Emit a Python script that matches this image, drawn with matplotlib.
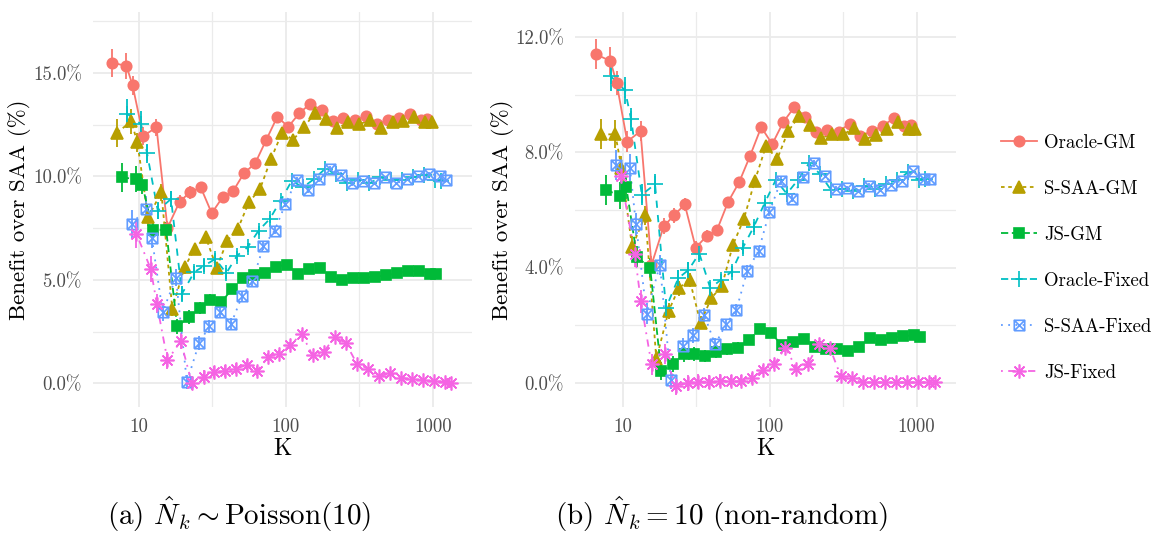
import numpy as np
import matplotlib
matplotlib.use("Agg")
import matplotlib.pyplot as plt
from matplotlib.path import Path
from matplotlib.lines import Line2D

plt.rcParams['font.family'] = ['cmr10', 'DejaVu Serif']
plt.rcParams['mathtext.fontset'] = 'cm'
plt.rcParams['axes.formatter.use_mathtext'] = True

# ---- data ----
K = [8, 10, 11, 13, 16, 19, 23, 27, 32, 38, 45, 53, 63, 75, 89, 106, 126, 150,
     178, 212, 252, 299, 356, 423, 502, 597, 709, 842, 1000, 1100]

methods = ['Oracle-GM', 'S-SAA-GM', 'JS-GM', 'Oracle-Fixed', 'S-SAA-Fixed', 'JS-Fixed']

# panel (a): N_k ~ Poisson(10)
a_oracle_gm = [15.50, 15.34, 14.41, 11.96, 12.37, 7.51, 8.78, 9.23, 9.47, 8.22, 8.99, 9.28, 10.16, 10.63, 11.75,
               12.88, 12.40, 13.06, 13.52, 13.20, 12.69, 12.82, 12.72, 12.93, 12.53, 12.72, 12.84, 13.00, 12.72, 12.77]
a_ssaa_gm = [12.12, 12.66, 11.64, 8.02, 9.23, 3.60, 5.61, 6.50, 7.09, 5.58, 6.90, 7.46, 8.75, 9.39, 10.84,
             12.12, 11.77, 12.40, 13.09, 12.77, 12.33, 12.61, 12.53, 12.72, 12.33, 12.61, 12.69, 12.88, 12.61, 12.61]
a_js_gm = [9.95, 9.87, 9.60, 7.41, 7.41, 2.75, 3.20, 3.63, 4.04, 3.92, 4.57, 5.10, 5.21, 5.32, 5.64,
           5.73, 5.29, 5.53, 5.58, 5.16, 4.97, 5.10, 5.10, 5.16, 5.21, 5.32, 5.42, 5.42, 5.29, 5.29]
a_oracle_fixed = [13.04, 12.53, 11.11, 8.35, 8.91, 4.33, 5.37, 5.69, 6.01, 5.32, 6.17, 6.57, 7.38, 7.94, 8.83,
                  9.79, 9.47, 9.87, 10.36, 10.12, 9.66, 9.83, 9.66, 9.95, 9.83, 9.83, 9.95, 10.08, 9.83, 9.79]
a_ssaa_fixed = [7.70, 8.43, 7.00, 3.44, 5.10, 0.06, 1.94, 2.75, 3.44, 2.88, 4.20, 4.93, 6.62, 7.38, 8.67,
                9.84, 9.34, 9.87, 10.36, 10.08, 9.66, 9.79, 9.66, 9.95, 9.66, 9.87, 10.03, 10.14, 10.00, 9.83]
a_js_fixed = [7.22, 5.53, 3.84, 1.11, 2.04, 0.02, 0.31, 0.55, 0.58, 0.71, 0.87, 0.59, 1.27, 1.43, 1.83,
              2.40, 1.35, 1.51, 2.23, 1.94, 0.95, 0.71, 0.34, 0.47, 0.27, 0.18, 0.14, 0.11, 0.06, 0.02]
a_err = [0.68, 0.62, 0.45, 0.42, 0.40, 0.35, 0.32, 0.30, 0.28, 0.26, 0.24, 0.22, 0.20, 0.18, 0.16,
         0.15, 0.14, 0.13, 0.12, 0.11, 0.10, 0.09, 0.09, 0.08, 0.08, 0.07, 0.07, 0.06, 0.06, 0.06]

# panel (b): N_k = 10
b_oracle_gm = [11.39, 11.16, 10.40, 8.37, 8.73, 4.09, 5.43, 5.81, 6.19, 4.69, 5.09, 5.30, 6.27, 6.96, 7.87,
               8.87, 8.28, 9.05, 9.56, 9.23, 8.70, 8.77, 8.71, 8.99, 8.56, 8.73, 8.91, 9.17, 8.91, 8.96]
b_ssaa_gm = [8.62, 8.62, 7.47, 4.72, 5.81, 0.83, 2.49, 3.29, 3.58, 2.09, 2.95, 3.35, 4.78, 5.70, 7.02,
             8.22, 7.76, 8.73, 9.25, 8.96, 8.50, 8.62, 8.62, 8.85, 8.45, 8.60, 8.80, 9.05, 8.80, 8.80]
b_js_gm = [6.69, 6.50, 6.79, 4.38, 3.98, 0.42, 0.65, 1.00, 1.00, 0.94, 1.06, 1.17, 1.23, 1.49, 1.86,
           1.74, 1.31, 1.42, 1.54, 1.26, 1.17, 1.17, 1.11, 1.26, 1.57, 1.49, 1.57, 1.63, 1.65, 1.61]
b_oracle_fixed = [10.63, 10.14, 9.14, 6.53, 6.89, 2.60, 3.63, 3.92, 4.49, 3.29, 3.58, 3.86, 4.67, 5.41, 6.23,
                  7.04, 6.56, 7.04, 7.61, 7.25, 6.69, 6.73, 6.67, 6.84, 6.73, 6.90, 7.04, 7.30, 7.04, 7.07]
b_ssaa_fixed = [7.57, 7.47, 5.50, 2.41, 4.10, 0.11, 1.28, 1.65, 2.37, 1.34, 2.03, 2.54, 3.90, 4.58, 5.93,
                6.99, 6.39, 7.13, 7.61, 7.19, 6.73, 6.75, 6.65, 6.84, 6.69, 6.88, 7.02, 7.34, 7.07, 7.07]
b_js_fixed = [7.19, 4.49, 2.83, 0.65, 1.00, -0.11, 0.00, 0.05, 0.05, 0.08, 0.08, 0.08, 0.16, 0.46, 0.65,
              1.23, 0.50, 0.65, 1.34, 1.23, 0.25, 0.16, 0.02, 0.02, 0.02, 0.02, 0.02, 0.02, 0.02, 0.02]
b_err = [0.52, 0.48, 0.40, 0.36, 0.34, 0.30, 0.28, 0.26, 0.24, 0.22, 0.20, 0.19, 0.18, 0.16, 0.15,
         0.14, 0.13, 0.12, 0.11, 0.10, 0.09, 0.09, 0.08, 0.08, 0.07, 0.07, 0.06, 0.06, 0.06, 0.05]

a_yticks = [0, 5, 10, 15]
b_yticks = [0, 4, 8, 12]

# ---- styles ----
colors = ['#F8766D', '#B79F00', '#00BA38', '#00BFC4', '#619CFF', '#F564E3']
dashes = ['-', (0, (2, 2)), (0, (4, 2)), (0, (4, 4)), (0, (1, 3)), (0, (1, 3, 4, 3))]

sqx = Path([(-1, -1), (1, -1), (1, 1), (-1, 1), (-1, -1), (-1, -1), (1, 1), (-1, 1), (1, -1)],
           [Path.MOVETO, Path.LINETO, Path.LINETO, Path.LINETO, Path.LINETO,
            Path.MOVETO, Path.LINETO, Path.MOVETO, Path.LINETO])
markers = ['o', '^', 's', '+', sqx, (8, 2, 0)]
msizes = [7.5, 8, 7.5, 11, 7.5, 10]
filled = [True, True, True, False, False, False]
dodge = 0.033
gridc = '#EBEBEB'
textc = '#4D4D4D'

W, H = 1156, 533
fig = plt.figure(figsize=(W / 100, H / 100), dpi=100)
top, bot = 12, 407
ax_a = fig.add_axes([93 / W, (H - bot) / H, (472 - 93) / W, (bot - top) / H])
ax_b = fig.add_axes([575 / W, (H - bot) / H, (956 - 575) / W, (bot - top) / H])


def draw(ax, series, err, yticks, ylim, x0, x1):
    logk = np.log10(K)
    for i, ys in enumerate(series):
        xs = 10 ** (logk + (i - 2.5) * dodge)
        ys = np.array(ys)
        ax.vlines(xs, ys - np.array(err), ys + np.array(err), color=colors[i], lw=1.3, zorder=3)
    for i, ys in enumerate(series):
        xs = 10 ** (logk + (i - 2.5) * dodge)
        ax.plot(xs, ys, color=colors[i], linestyle=dashes[i], lw=1.3, zorder=4)
    for i, ys in enumerate(series):
        xs = 10 ** (logk + (i - 2.5) * dodge)
        ax.plot(xs, ys, linestyle='none', marker=markers[i], ms=msizes[i],
                color=colors[i], mfc=colors[i] if filled[i] else 'none',
                mew=1.2, zorder=5)
    ax.set_xscale('log')
    ax.set_xticks([10, 100, 1000])
    ax.set_xticklabels(['10', '100', '1000'])
    ax.set_xticks([10 ** 1.5, 10 ** 2.5], minor=True)
    ax.xaxis.set_minor_formatter(plt.NullFormatter())
    ax.set_yticks(yticks)
    ax.set_yticklabels(['%.1f%%' % v for v in yticks])
    step = yticks[1] - yticks[0]
    minor = [v + step / 2 for v in yticks if v + step / 2 < ylim[1]]
    ax.set_yticks(minor, minor=True)
    ax.set_xlim(10 ** x0, 10 ** x1)
    ax.set_ylim(*ylim)
    ax.grid(True, which='major', color=gridc, lw=1.3, zorder=0)
    ax.grid(True, which='minor', color=gridc, lw=0.9, zorder=0)
    ax.set_axisbelow(True)
    for s in ax.spines.values():
        s.set_visible(False)
    ax.tick_params(which='both', length=0, labelsize=13.5, labelcolor=textc, pad=8)
    ax.set_xlabel('K', fontsize=17, labelpad=1)
    ax.set_ylabel('Benefit over SAA (%)', fontsize=16.5, labelpad=1)


draw(ax_a, [a_oracle_gm, a_ssaa_gm, a_js_gm, a_oracle_fixed, a_ssaa_fixed, a_js_fixed],
     a_err, a_yticks, (-1.15, 17.95), 0.69, 3.267)
draw(ax_b, [b_oracle_gm, b_ssaa_gm, b_js_gm, b_oracle_fixed, b_ssaa_fixed, b_js_fixed],
     b_err, b_yticks, (-0.83, 12.86), 0.676, 3.268)

handles = []
for i, m in enumerate(methods):
    handles.append(Line2D([], [], color=colors[i], linestyle=dashes[i], lw=1.3,
                          marker=markers[i], ms=msizes[i],
                          mfc=colors[i] if filled[i] else 'none', mew=1.2))
fig.legend(handles=handles, labels=methods, loc='center left', bbox_to_anchor=(0.858, 0.516),
           frameon=False, fontsize=13.5, handlelength=1.9, handletextpad=0.4,
           labelspacing=1.5, borderpad=0)

fig.text(239 / W, 1 - 514 / H, r'(a) $\hat{N}_k \sim \mathrm{Poisson}(10)$', fontsize=21,
         ha='center', va='center')
fig.text(722 / W, 1 - 514 / H, r'(b) $\hat{N}_k = 10$ (non-random)', fontsize=21,
         ha='center', va='center')

fig.savefig('out.png', dpi=100)
